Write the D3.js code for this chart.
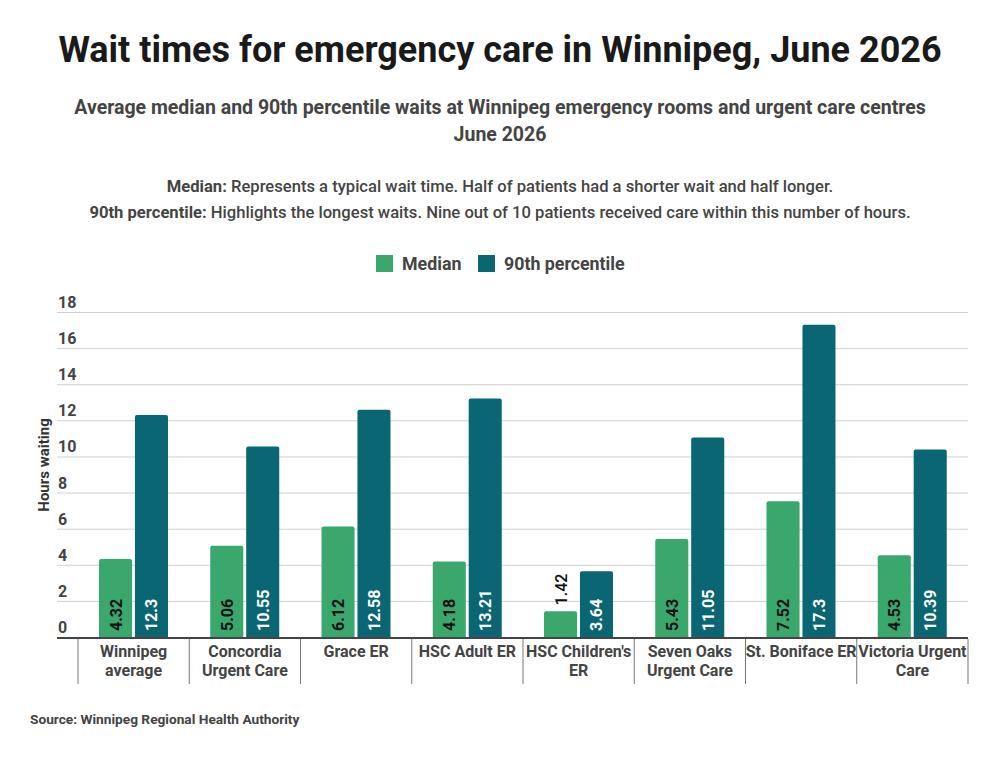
<!DOCTYPE html>
<html>

<head>
    <meta charset="utf-8">
    <title>Wait times chart</title>
    <script src="https://cdnjs.cloudflare.com/ajax/libs/d3/7.8.5/d3.min.js"></script>
    <style>
        body { margin: 0; background: #fff; }
        text { font-family: Roboto, "Noto Sans", sans-serif; }
    </style>
</head>

<body>
    <script>
        var w = 1000, h = 757;

        // data
        var categories = ["Winnipeg\naverage", "Concordia\nUrgent Care", "Grace ER", "HSC Adult ER",
            "HSC Children's\nER", "Seven Oaks\nUrgent Care", "St. Boniface ER", "Victoria Urgent\nCare"];
        var median = [4.32, 5.06, 6.12, 4.18, 1.42, 5.43, 7.52, 4.53];
        var p90 = [12.3, 10.55, 12.58, 13.21, 3.64, 11.05, 17.3, 10.39];
        var yTicks = [0, 2, 4, 6, 8, 10, 12, 14, 16, 18];
        var seriesNames = ["Median", "90th percentile"];
        var colors = ["#3aa76d", "#0b6673"];

        var rows = categories.map(function(c, i) { return { cat: c, vals: [median[i], p90[i]] }; });

        var svg = d3.select("body").append("svg")
            .attr("width", w).attr("height", h);

        // titles
        svg.append("text").attr("x", 500).attr("y", 62)
            .attr("text-anchor", "middle")
            .style("font-size", "36px").style("font-weight", 700).style("fill", "#1a1a1a")
            .text("Wait times for emergency care in Winnipeg, June 2026");

        var sub = ["Average median and 90th percentile waits at Winnipeg emergency rooms and urgent care centres", "June 2026"];
        svg.selectAll(".sub").data(sub).enter().append("text")
            .attr("x", 500).attr("y", function(d, i) { return 114 + i * 27; })
            .attr("text-anchor", "middle")
            .style("font-size", "19.5px").style("font-weight", 700).style("fill", "#444")
            .text(function(d) { return d; });

        var notes = [["Median:", " Represents a typical wait time. Half of patients had a shorter wait and half longer."],
            ["90th percentile:", " Highlights the longest waits. Nine out of 10 patients received care within this number of hours."]];
        notes.forEach(function(n, i) {
            var t = svg.append("text").attr("x", 500).attr("y", 192 + i * 26)
                .attr("text-anchor", "middle")
                .style("font-size", "16.6px").style("fill", "#444");
            t.append("tspan").style("font-weight", 700).text(n[0]);
            t.append("tspan").style("font-weight", 500).text(n[1]);
        });

        // legend
        var legend = svg.append("g");
        var lx = [376, 478];
        seriesNames.forEach(function(s, i) {
            legend.append("rect").attr("x", lx[i]).attr("y", 255).attr("width", 17).attr("height", 17)
                .attr("fill", colors[i]);
            legend.append("text").attr("x", lx[i] + 26).attr("y", 270)
                .style("font-size", "17.8px").style("font-weight", 700).style("fill", "#444")
                .text(s);
        });

        // scales
        var x0 = 57, x1 = 968, yBase = 637;
        var y = d3.scaleLinear().domain([0, 18]).range([yBase, 312]);
        var xBand = d3.scaleBand().domain(d3.range(categories.length)).range([78, 968]).paddingInner(0);
        var xSub = d3.scaleBand().domain([0, 1]).range([21, 90]).paddingInner(0.08);

        // grid
        var grid = svg.append("g")
            .attr("transform", "translate(" + x0 + ",0)")
            .call(d3.axisRight(y).tickValues(yTicks).tickSize(x1 - x0).tickFormat(""));
        grid.select(".domain").remove();
        grid.selectAll("line").attr("stroke", "#d0d0d0").attr("stroke-width", 1);

        svg.selectAll(".ylab").data(yTicks).enter().append("text")
            .attr("x", x0 + 1).attr("y", function(d) { return y(d) - 4; })
            .style("font-size", "16px").style("font-weight", 700).style("fill", "#444")
            .text(function(d) { return d; });

        svg.append("text")
            .attr("transform", "translate(49," + 465 + ") rotate(-90)")
            .attr("text-anchor", "middle")
            .style("font-size", "15px").style("font-weight", 700).style("fill", "#333")
            .text("Hours waiting");

        // bars
        var groups = svg.selectAll(".grp").data(rows).enter().append("g")
            .attr("transform", function(d, i) { return "translate(" + xBand(i) + ",0)"; });

        groups.selectAll("path").data(function(d) { return d.vals; }).enter().append("path")
            .attr("fill", function(d, j) { return colors[j]; })
            .attr("d", function(d, j) {
                var bx = xSub(j), bw = xSub.bandwidth(), by = y(d), r = 2;
                return "M" + bx + "," + yBase + "V" + (by + r) + "Q" + bx + "," + by + " " + (bx + r) + "," + by +
                    "H" + (bx + bw - r) + "Q" + (bx + bw) + "," + by + " " + (bx + bw) + "," + (by + r) + "V" + yBase + "Z";
            });

        groups.selectAll(".val").data(function(d) { return d.vals; }).enter().append("text")
            .attr("transform", function(d, j) {
                var cx = xSub(j) + xSub.bandwidth() / 2 + 6;
                var inside = yBase - y(d) > 45;
                var yy = inside ? yBase - 6 : y(d) - 6;
                return "translate(" + cx + "," + yy + ") rotate(-90)";
            })
            .style("font-size", "16px")
            .style("font-weight", function(d) { return yBase - y(d) > 45 ? 700 : 500; })
            .style("fill", function(d, j) { return (j === 1 && yBase - y(d) > 45) ? "#fff" : "#111"; })
            .text(function(d) { return d; });

        // x axis
        svg.append("line").attr("x1", x0).attr("x2", x1).attr("y1", yBase + 1).attr("y2", yBase + 1)
            .attr("stroke", "#444").attr("stroke-width", 2);

        var divs = d3.range(categories.length + 1);
        svg.selectAll(".div").data(divs).enter().append("line")
            .attr("x1", function(d) { return 78 + d * xBand.step(); })
            .attr("x2", function(d) { return 78 + d * xBand.step(); })
            .attr("y1", yBase + 2).attr("y2", 684)
            .attr("stroke", "#777").attr("stroke-width", 1);

        groups.each(function(d, i) {
            var lines = d.cat.split("\n");
            var t = d3.select(this).append("text")
                .attr("text-anchor", "middle")
                .style("font-size", "16px").style("font-weight", 700).style("fill", "#444");
            lines.forEach(function(l, k) {
                t.append("tspan").attr("x", xBand.bandwidth() / 2).attr("y", 657 + k * 19).text(l);
            });
        });

        svg.append("text").attr("x", 30).attr("y", 724)
            .style("font-size", "13.7px").style("font-weight", 700).style("fill", "#444")
            .text("Source: Winnipeg Regional Health Authority");
    </script>
</body>

</html>
